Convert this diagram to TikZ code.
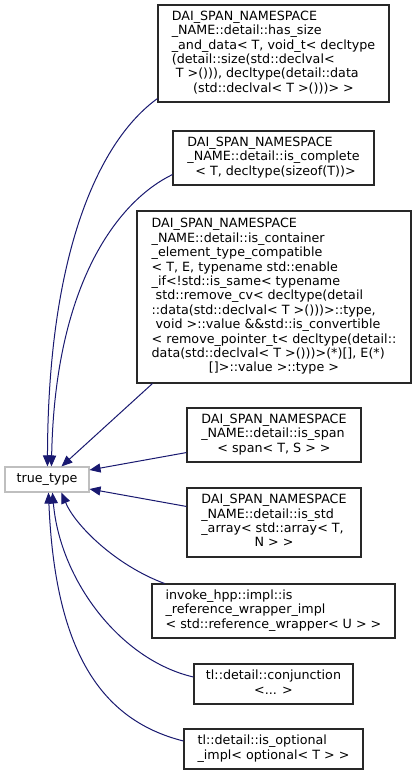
\documentclass[tikz,border=0pt]{standalone}
\usepackage{fontspec}
\setmainfont{DejaVu Sans}
\usetikzlibrary{arrows.meta}
\definecolor{edgeblue}{RGB}{25,25,112}
\definecolor{boxgray}{RGB}{191,191,191}
\definecolor{boxline}{RGB}{40,40,40}
\newcommand\dlab[2]{\begin{tabular}{@{}l@{}}#1\\\multicolumn{1}{@{}c@{}}{#2}\end{tabular}}
\begin{document}
\begin{tikzpicture}[x=1pt,y=-1pt,
  cls/.style={draw=boxline,line width=1.1pt,fill=white,rectangle,inner sep=0pt,
    font=\fontsize{12.7}{14.4}\selectfont,text=black},
  base/.style={draw=boxgray,line width=1.1pt,fill=white,rectangle,inner sep=0pt,
    font=\fontsize{12.7}{14.4}\selectfont,text=black},
  inh/.style={draw=edgeblue,line width=1pt,
    -{Triangle[length=11pt,width=9pt]},fill=none},
]
\useasboundingbox (0,0) rectangle (416,776);
\fill[white] (0,0) rectangle (416,776);

\node[base,minimum width=84pt,minimum height=25pt] (tt) at (47,479.5) {true\_type};

\node[cls,minimum width=231pt,minimum height=97pt] (b1) at (273.5,53.5)
 {\dlab{DAI\_SPAN\_NAMESPACE\\\_NAME::detail::has\_size\\\_and\_data< T, void\_t< decltype\\(detail::size(std::declval<\\\ T >())), decltype(detail::data}{(std::declval< T >()))> >}};

\node[cls,minimum width=201pt,minimum height=54pt] (b2) at (273.5,158)
 {\dlab{DAI\_SPAN\_NAMESPACE\\\_NAME::detail::is\_complete}{\ < T, decltype(sizeof(T))>}};

\node[cls,minimum width=274pt,minimum height=172pt] (b3) at (274,297)
 {\dlab{DAI\_SPAN\_NAMESPACE\\\_NAME::detail::is\_container\\\_element\_type\_compatible\\< T, E, typename std::enable\\\_if<!std::is\_same< typename\\\ std::remove\_cv< decltype(detail\\::data(std::declval< T >()))>::type,\\\ void >::value \&\&std::is\_convertible\\< remove\_pointer\_t< decltype(detail::\\data(std::declval< T >()))>(*)[], E(*)}{[]>::value >::type >}};

\node[cls,minimum width=174pt,minimum height=54pt] (b4) at (274,435)
 {\dlab{DAI\_SPAN\_NAMESPACE\\\_NAME::detail::is\_span}{< span< T, S > >}};

\node[cls,minimum width=174pt,minimum height=69pt] (b5) at (274,522.5)
 {\dlab{DAI\_SPAN\_NAMESPACE\\\_NAME::detail::is\_std\\\_array< std::array< T,}{N > >}};

\node[cls,minimum width=243pt,minimum height=54pt] (b6) at (273.5,611)
 {\dlab{invoke\_hpp::impl::is\\\_reference\_wrapper\_impl}{< std::reference\_wrapper< U > >}};

\node[cls,minimum width=159pt,minimum height=40pt] (b7) at (273.5,684)
 {\dlab{tl::detail::conjunction}{<... >}};

\node[cls,minimum width=179pt,minimum height=40pt] (b8) at (273.5,749)
 {\dlab{tl::detail::is\_optional}{\_impl< optional< T > >}};

% edges
\draw[inh] ([yshift=4pt]b1.south west) .. controls (100,140) and (48,250) .. ([xshift=43pt]tt.north west);
\draw[inh] ([yshift=11pt]b2.south west) .. controls (120,200) and (55,280) .. ([xshift=47pt]tt.north west);
\draw[inh] ([xshift=16pt]b3.south west) -- ([xshift=57pt]tt.north west);
\draw[inh] ([yshift=10pt]b4.south west) -- ([yshift=9.5pt]tt.east);
\draw[inh] ([yshift=-19pt]b5.north west) -- ([yshift=-9.5pt]tt.east);
\draw[inh] ([xshift=13pt]b6.north west) .. controls (115,565) and (75,525) .. ([xshift=57pt]tt.south west);
\draw[inh] ([yshift=7pt]b7.west) .. controls (120,660) and (60,580) .. ([xshift=48pt]tt.south west);
\draw[inh] ([yshift=8pt]b8.west) .. controls (100,720) and (55,650) .. ([xshift=44pt]tt.south west);
\end{tikzpicture}
\end{document}
